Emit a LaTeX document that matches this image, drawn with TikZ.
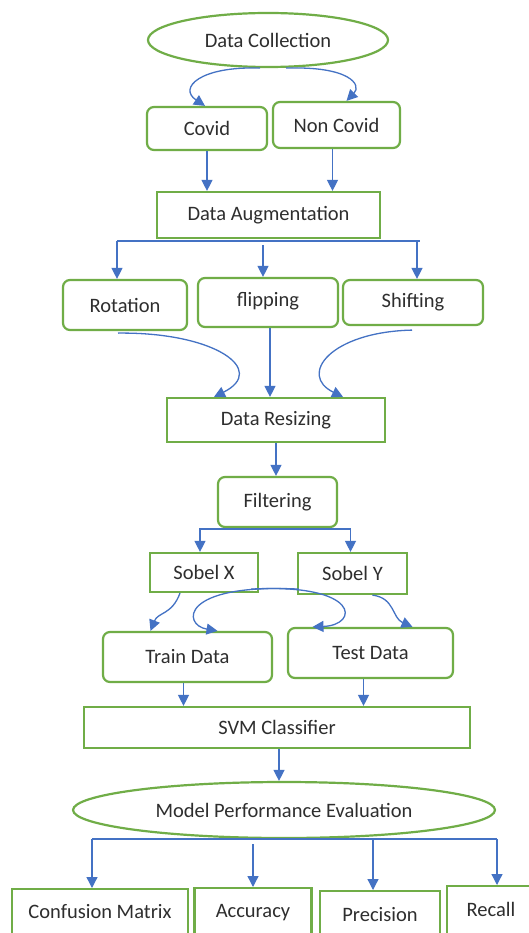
\documentclass[tikz,border=0pt]{standalone}
\usepackage{fontspec}
\setmainfont{Carlito}
\usetikzlibrary{arrows.meta,shapes.geometric}
\definecolor{gr}{HTML}{70AD47}
\definecolor{bl}{HTML}{4472C4}
\definecolor{tx}{HTML}{2E2E2E}
\begin{document}
\begin{tikzpicture}[x=1pt,y=-1pt,
  font=\fontsize{20.5}{24}\selectfont, text=tx,
  box/.style={draw=gr, line width=2.2pt, fill=white, inner sep=0pt, align=center},
  rbox/.style={box, rounded corners=7pt},
  ell/.style={box, ellipse},
  bline/.style={draw=bl, line width=1.3pt},
  arr/.style={bline, -{Triangle[length=11pt,width=11pt]}},
  bot/.style={box, anchor=north, text height=29pt, text depth=33pt}]
\useasboundingbox (0,0) rectangle (529,933);
\fill[white] (0,0) rectangle (529,933);
\clip (0,0) rectangle (529,933);

% nodes
\node[ell, minimum width=240pt, minimum height=54pt] (dc) at (268,40) {Data Collection};
\node[rbox, minimum width=120pt, minimum height=43pt] (covid) at (207,128.5) {Covid};
\node[rbox, minimum width=127pt, minimum height=46pt] (noncovid) at (336.5,125) {Non Covid};
\node[box, minimum width=223pt, minimum height=46pt] (aug) at (268.5,215) {Data Augmentation};
\node[rbox, minimum width=124pt, minimum height=50pt] (rot) at (125,305) {Rotation};
\node[rbox, minimum width=140pt, minimum height=49pt, text depth=9pt, text height=17pt] (flip) at (268,302.5) {flipping};
\node[rbox, minimum width=140pt, minimum height=45pt] (shift) at (413,302.5) {Shifting};
\node[box, minimum width=218pt, minimum height=44pt] (resize) at (276,420) {Data Resizing};
\node[rbox, minimum width=119pt, minimum height=50pt] (filter) at (277.5,502) {Filtering};
\node[box, minimum width=108pt, minimum height=39pt] (sobx) at (204,572.5) {Sobel X};
\node[box, minimum width=109pt, minimum height=41pt] (soby) at (352.5,573.5) {Sobel Y};
\node[rbox, minimum width=169pt, minimum height=50pt] (train) at (187.5,657) {Train Data};
\node[rbox, minimum width=165pt, minimum height=50pt] (test) at (370.5,653) {Test Data};
\node[box, minimum width=386pt, minimum height=41pt] (svm) at (277,727.5) {SVM Classifier};
\node[ell, minimum width=422pt, minimum height=56pt] (mpe) at (284,810) {Model Performance Evaluation};
\node[bot, minimum width=176pt] (conf) at (100,888) {Confusion Matrix};
\node[bot, minimum width=117pt] (acc) at (253,887) {Accuracy};
\node[bot, minimum width=120pt, text height=30pt, text depth=30pt] (prec) at (380,890) {Precision};
\node[bot, minimum width=88pt, text height=30pt, text depth=35pt] (recall) at (491,885) {Recall};

% connectors
\draw[arr] ([xshift=-8pt]dc.south) .. controls (200,66) and (178,88) .. ([xshift=-2pt]covid.north);
\draw[arr] ([xshift=18pt]dc.south) .. controls (350,66) and (362,85) .. ([xshift=10pt]noncovid.north);
\draw[arr] (covid.south) -- (covid.south |- aug.north);
\draw[arr] ([xshift=-4pt]noncovid.south) -- ([xshift=-4pt]noncovid.south |- aug.north);

\coordinate (ab) at ([yshift=-2pt]aug.south);
\draw[bline] ([xshift=-8pt]rot.north |- ab) -- ([xshift=7pt]shift.north |- ab);
\draw[arr] ([xshift=-8pt]rot.north |- ab) -- ([xshift=-8pt]rot.north);
\draw[arr] ([xshift=-5pt,yshift=-4pt]flip.north |- ab) -- ([xshift=-5pt]flip.north);
\draw[arr] ([xshift=4pt]shift.north |- ab) -- ([xshift=4pt]shift.north);

\draw[arr] ([xshift=-7pt,yshift=-2pt]rot.south) .. controls (215,332) and (268,370) .. ([xshift=-62pt]resize.north);
\draw[arr] ([xshift=2pt]flip.south) -- ([xshift=2pt]flip.south |- resize.north);
\draw[arr] ([xshift=-1pt,yshift=-4pt]shift.south) .. controls (330,332) and (298,375) .. ([xshift=67pt]resize.north);

\draw[arr] (resize.south) -- (resize.south |- filter.north);
\draw[arr] ([yshift=-1pt]filter.south) -| ([xshift=-4pt]sobx.north);
\draw[arr] ([yshift=-1pt]filter.south) -| ([xshift=-2pt]soby.north);

\draw[arr] ([xshift=-24pt]sobx.south) .. controls (172,615) and (158,612) .. ([xshift=-37pt]train.north);
\draw[arr] ([xshift=20pt]soby.south) .. controls (395,598) and (392,618) .. ([xshift=42pt]test.north);
\draw[arr] ([xshift=-8pt,yshift=4pt]sobx.south east) .. controls (360,583) and (360,625) .. ([xshift=-58pt]test.north);
\draw[arr] ([xshift=2pt,yshift=6pt]soby.south west) .. controls (180,583) and (182,625) .. ([xshift=30pt]train.north);

\draw[arr] ([xshift=-4pt]train.south) -- ([xshift=-4pt]train.south |- svm.north);
\draw[arr] ([xshift=-7pt]test.south) -- ([xshift=-7pt]test.south |- svm.north);
\draw[arr] ([xshift=2pt]svm.south) -- ([xshift=2pt]svm.south |- mpe.north);

\coordinate (mb) at (mpe.south);
\coordinate (accstart) at ([yshift=-5pt]acc.north |- mb);
\draw[bline] ([xshift=-8pt]conf.north |- mb) -- ([xshift=6pt]recall.north |- mb);
\draw[arr] ([xshift=-8pt]conf.north |- mb) -- ([xshift=-8pt]conf.north);
\draw[arr] (accstart) -- (acc.north);
\draw[arr] ([xshift=-7pt]prec.north |- mb) -- ([xshift=-7pt]prec.north);
\draw[arr] ([xshift=6pt]recall.north |- mb) -- ([xshift=6pt]recall.north);
\end{tikzpicture}
\end{document}
